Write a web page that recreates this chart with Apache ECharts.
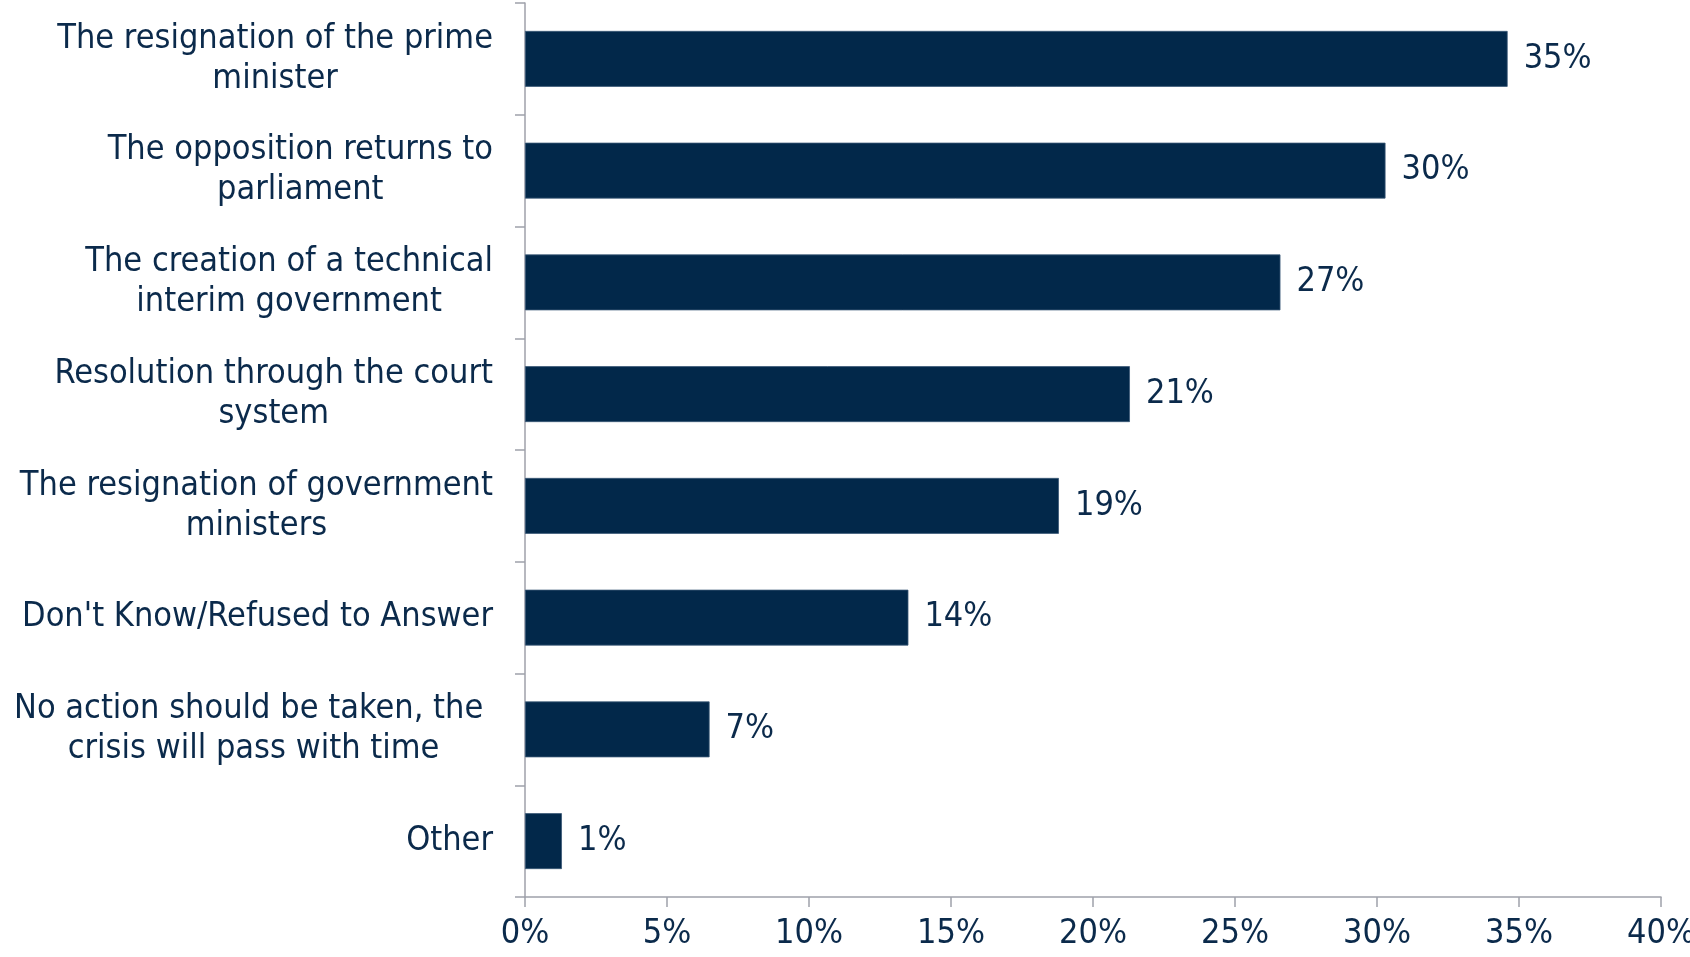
<!DOCTYPE html>
<html>
<head>
<meta charset="utf-8">
<script src="https://cdn.jsdelivr.net/npm/echarts@6/dist/echarts.min.js"></script>
<style>
html,body{margin:0;padding:0;background:#ffffff;}
#chart{width:1690px;height:957px;}
</style>
</head>
<body>
<div id="chart"></div>
<script>
var categories = [
  "The resignation of the prime\nminister",
  "The opposition returns to\nparliament",
  "The creation of a technical\ninterim government",
  "Resolution through the court\nsystem",
  "The resignation of government\nministers",
  "Don't Know/Refused to Answer",
  "No action should be taken, the \ncrisis will pass with time",
  "Other"
];
var shares = [34.6, 30.3, 26.6, 21.3, 18.8, 13.5, 6.5, 1.3];
var shareLabels = ["35%", "30%", "27%", "21%", "19%", "14%", "7%", "1%"];
var xTicks = [0, 5, 10, 15, 20, 25, 30, 35, 40];

var textColor = '#0b2a4b';
var fontFam = '"DejaVu Sans Condensed"';
var fs = 34;

var chart = echarts.init(document.getElementById('chart'));
chart.setOption({
  animation: false,
  backgroundColor: '#ffffff',
  grid: { left: 525, right: 29, top: 3, bottom: 60, containLabel: false, outerBoundsMode: 'none' },
  xAxis: {
    type: 'value',
    min: xTicks[0],
    max: xTicks[xTicks.length - 1],
    interval: xTicks[1] - xTicks[0],
    splitLine: { show: false },
    axisLine: { show: true, lineStyle: { color: '#9fa1aa', width: 1.5 } },
    axisTick: { show: true, length: 10, lineStyle: { color: '#9fa1aa', width: 1.5 } },
    axisLabel: {
      formatter: '{value}%',
      color: textColor, fontFamily: fontFam, fontSize: fs, margin: 20
    }
  },
  yAxis: {
    type: 'category',
    inverse: true,
    data: categories,
    axisLine: { show: true, lineStyle: { color: '#9fa1aa', width: 1.5 } },
    axisTick: { show: true, length: 10, lineStyle: { color: '#9fa1aa', width: 1.5 } },
    axisLabel: {
      margin: 32,
      align: 'right',
      formatter: function (v) {
        return v.split('\n').map(function (l) { return '{c|' + l + '}'; }).join('\n');
      },
      rich: {
        c: { align: 'center', color: textColor, fontFamily: fontFam, fontSize: fs, lineHeight: 40 }
      }
    }
  },
  series: [{
    type: 'bar',
    data: shares,
    barWidth: '50%',
    itemStyle: { color: '#02284a', borderColor: '#3a5876', borderWidth: 0.8 },
    label: {
      show: true,
      position: 'right',
      distance: 16,
      color: textColor, fontFamily: fontFam, fontSize: fs,
      formatter: function (p) { return shareLabels[p.dataIndex]; }
    }
  }]
});
</script>
</body>
</html>
